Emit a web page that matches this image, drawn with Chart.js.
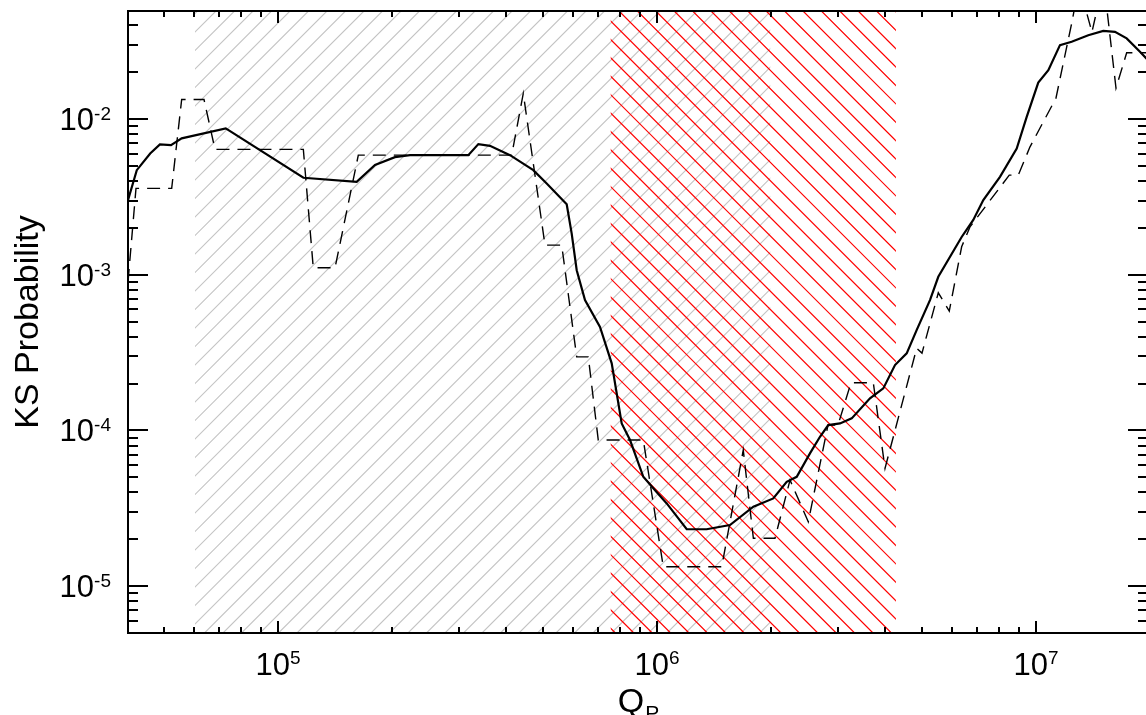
<!DOCTYPE html>
<html><head><meta charset="utf-8">
<script src="https://cdn.jsdelivr.net/npm/chart.js@4"></script>
<style>html,body{margin:0;padding:0;background:#fff;overflow:hidden;} canvas{display:block;}</style>
</head><body>
<canvas id="c" width="1148" height="715"></canvas>
<script>
// ---- data ----
const solidQ = [4.02e4, 4.24e4, 4.6e4, 4.88e4, 5.22e4, 5.57e4, 7.28e4, 1.167e5, 1.613e5, 1.803e5, 2.035e5, 2.23e5, 3.178e5, 3.378e5, 3.625e5, 4.094e5, 4.717e5, 5.117e5, 5.778e5, 5.956e5, 6.14e5, 6.457e5, 7.073e5, 7.595e5, 8.07e5, 8.489e5, 9.202e5, 9.777e5, 1.061e6, 1.198e6, 1.352e6, 1.558e6, 1.796e6, 2.027e6, 2.199e6, 2.337e6, 2.533e6, 2.692e6, 2.831e6, 3.04e6, 3.264e6, 3.648e6, 3.955e6, 4.246e6, 4.559e6, 4.843e6, 5.252e6, 5.524e6, 6.366e6, 6.832e6, 7.261e6, 8.035e6, 8.895e6, 9.452e6, 1.014e7, 1.078e7, 1.157e7, 1.242e7, 1.374e7, 1.505e7, 1.616e7, 1.735e7, 1.881e7, 1.975e7];
const solidP = [3.02e-3, 4.70e-3, 6.02e-3, 6.88e-3, 6.81e-3, 7.52e-3, 8.72e-3, 4.20e-3, 3.96e-3, 5.07e-3, 5.70e-3, 5.87e-3, 5.87e-3, 6.91e-3, 6.74e-3, 5.87e-3, 4.70e-3, 3.86e-3, 2.84e-3, 1.84e-3, 1.07e-3, 6.88e-4, 4.63e-4, 2.70e-4, 1.11e-4, 8.68e-5, 5.04e-5, 4.25e-5, 3.40e-5, 2.32e-5, 2.32e-5, 2.47e-5, 3.24e-5, 3.66e-5, 4.68e-5, 5.04e-5, 7.13e-5, 9.11e-5, 1.083e-4, 1.11e-4, 1.196e-4, 1.608e-4, 1.864e-4, 2.63e-4, 3.13e-4, 4.41e-4, 6.88e-4, 9.71e-4, 1.75e-3, 2.25e-3, 3.02e-3, 4.26e-3, 6.48e-3, 1.035e-2, 1.716e-2, 2.06e-2, 2.99e-2, 3.14e-2, 3.46e-2, 3.69e-2, 3.64e-2, 3.30e-2, 2.71e-2, 2.39e-2];

const dashQ = [4.02e4, 4.22e4, 5.242e4, 5.57e4, 6.379e4, 6.82e4, 1.1665e5, 1.239e5, 1.414e5, 1.629e5, 4.137e5, 4.438e5, 5.064e5, 5.605e5, 6.14e5, 6.588e5, 6.999e5, 9.202e5, 1.039e6, 1.482e6, 1.689e6, 1.796e6, 2.048e6, 2.244e6, 2.507e6, 2.826e6, 3.003e6, 3.25e6, 3.722e6, 3.996e6, 4.843e6, 5.003e6, 5.524e6, 5.905e6, 6.366e6, 6.696e6, 8.502e6, 8.982e6, 9.643e6, 1.129e7, 1.242e7, 1.299e7, 1.405e7, 1.508e7, 1.626e7, 1.735e7, 1.975e7];
const dashP = [9.0e-4, 3.59e-3, 3.59e-3, 1.338e-2, 1.338e-2, 6.39e-3, 6.39e-3, 1.109e-3, 1.109e-3, 5.87e-3, 5.87e-3, 1.462e-2, 1.551e-3, 1.551e-3, 2.97e-4, 2.97e-4, 8.68e-5, 8.68e-5, 1.332e-5, 1.332e-5, 7.48e-5, 2.03e-5, 2.03e-5, 4.80e-5, 2.59e-5, 1.083e-4, 1.083e-4, 2.025e-4, 2.025e-4, 5.71e-5, 3.37e-4, 3.14e-4, 7.66e-4, 5.85e-4, 1.513e-3, 2.03e-3, 4.37e-3, 4.37e-3, 6.64e-3, 1.364e-2, 4.12e-2, 7.3e-2, 3.62e-2, 7.8e-2, 1.581e-2, 2.67e-2, 2.67e-2];

const grayBand = [6.04e4, 1.99e6];
const redBand = [7.55e5, 4.27e6];

const xRange = [4.02e4, 1.975e7];
const yRange = [5.0e-6, 4.95e-2];

const xMajorTicks = [1e5, 1e6, 1e7];
const xTickExponents = ['5', '6', '7'];
const yMajorTicks = [1e-5, 1e-4, 1e-3, 1e-2];
const yTickExponents = ['-5', '-4', '-3', '-2'];

const xTitle = 'Q';
const xTitleSub = 'P';
const yTitle = 'KS Probability';

// ---- drawing helpers ----
const FONT = '"Liberation Sans", Arial, Helvetica, sans-serif';

function hatch(ctx, a, left, right, step, phase, dir, color, lw) {
  const h = a.bottom - a.top;
  ctx.save();
  ctx.beginPath();
  ctx.rect(left, a.top, right - left, h);
  ctx.clip();
  ctx.strokeStyle = color;
  ctx.lineWidth = lw;
  ctx.beginPath();
  const lo = dir > 0 ? left : left - h;
  const hi = dir > 0 ? right + h : right;
  let xt = phase + step * Math.floor((lo - phase) / step);
  for (; xt <= hi; xt += step) {
    ctx.moveTo(xt, a.top);
    ctx.lineTo(dir > 0 ? xt - h : xt + h, a.bottom);
  }
  ctx.stroke();
  ctx.restore();
}

function minorList(range) {
  const out = [];
  const e0 = Math.floor(Math.log10(range[0])), e1 = Math.ceil(Math.log10(range[1]));
  for (let e = e0; e <= e1; e++) for (let m = 2; m <= 9; m++) {
    const v = m * Math.pow(10, e);
    if (v > range[0] && v < range[1]) out.push(v);
  }
  return out;
}

const decor = {
  id: 'decor',
  beforeDatasetsDraw(chart) {
    const { ctx, chartArea: a, scales: { x } } = chart;
    const g0 = x.getPixelForValue(grayBand[0]), g1 = x.getPixelForValue(grayBand[1]);
    const r0 = x.getPixelForValue(redBand[0]), r1 = x.getPixelForValue(redBand[1]);
    hatch(ctx, a, g0, g1, 18.5, 12.5, 1, '#c4c4c4', 1.1);
    hatch(ctx, a, r0, r1, 18.4, 11.8, -1, '#ff0000', 1.2);
  },
  afterDraw(chart) {
    const { ctx, chartArea: a, scales: { x, y } } = chart;
    ctx.save();
    ctx.fillStyle = '#000';
    const L = Math.round(a.left), R = Math.round(a.right), T = Math.round(a.top), B = Math.round(a.bottom);
    // frame
    ctx.fillRect(L - 1, T - 1, R - L + 2, 2);
    ctx.fillRect(L - 1, B - 1, R - L + 2, 2);
    ctx.fillRect(L - 1, T - 1, 2, B - T + 2);
    ctx.fillRect(R - 1, T - 1, 2, B - T + 2);

    // x ticks (bottom & top, pointing inward)
    xMajorTicks.forEach(v => {
      const px = Math.round(x.getPixelForValue(v));
      ctx.fillRect(px - 1, B - 12, 2, 12);
      ctx.fillRect(px - 1, T, 2, 12);
    });
    minorList(xRange).forEach(v => {
      const px = Math.round(x.getPixelForValue(v));
      ctx.fillRect(px - 1, B - 6, 2, 6);
      ctx.fillRect(px - 1, T, 2, 6);
    });
    // y ticks (left & right, pointing inward)
    yMajorTicks.forEach(v => {
      const py = Math.round(y.getPixelForValue(v));
      ctx.fillRect(L, py - 1, 20, 2);
      ctx.fillRect(R - 20, py - 1, 20, 2);
    });
    minorList(yRange).forEach(v => {
      const py = Math.round(y.getPixelForValue(v));
      ctx.fillRect(L, py - 1, 10, 2);
      ctx.fillRect(R - 10, py - 1, 10, 2);
    });

    const MAIN = '31px ' + FONT, SUP = '19px ' + FONT;
    ctx.textBaseline = 'alphabetic';
    ctx.textAlign = 'left';
    // x tick labels
    xMajorTicks.forEach((v, i) => {
      const px = x.getPixelForValue(v);
      ctx.font = MAIN; const wm = ctx.measureText('10').width;
      ctx.font = SUP; const ws = ctx.measureText(xTickExponents[i]).width;
      const left = px - (wm + ws) / 2;
      ctx.font = MAIN; ctx.fillText('10', left, 675);
      ctx.font = SUP; ctx.fillText(xTickExponents[i], left + wm, 664);
    });
    // y tick labels
    yMajorTicks.forEach((v, i) => {
      const py = y.getPixelForValue(v);
      ctx.font = MAIN; const wm = ctx.measureText('10').width;
      ctx.font = SUP; const ws = ctx.measureText(yTickExponents[i]).width;
      const right = a.left - 17;
      const base = py + 11;
      ctx.font = MAIN; ctx.fillText('10', right - ws - wm, base);
      ctx.font = SUP; ctx.fillText(yTickExponents[i], right - ws, base - 10);
    });

    // axis titles
    ctx.font = '34px ' + FONT;
    const wq = ctx.measureText(xTitle).width;
    ctx.font = '21px ' + FONT;
    const wp = ctx.measureText(xTitleSub).width;
    const cx = (a.left + a.right) / 2;
    const lq = cx - (wq + wp) / 2;
    ctx.font = '34px ' + FONT; ctx.fillText(xTitle, lq, 712);
    ctx.font = '21px ' + FONT; ctx.fillText(xTitleSub, lq + wq + 1, 720);

    ctx.translate(38, (a.top + a.bottom) / 2);
    ctx.rotate(-Math.PI / 2);
    ctx.textAlign = 'center';
    ctx.font = '34px ' + FONT;
    ctx.fillText(yTitle, 0, 0);
    ctx.restore();
  }
};

new Chart(document.getElementById('c'), {
  type: 'line',
  data: {
    datasets: [
      {
        label: 'solid',
        data: solidQ.map((q, i) => ({ x: q, y: solidP[i] })),
        borderColor: '#000', borderWidth: 2.2, pointRadius: 0, tension: 0, fill: false, clip: 0
      },
      {
        label: 'dashed',
        data: dashQ.map((q, i) => ({ x: q, y: dashP[i] })),
        borderColor: '#000', borderWidth: 1.4, borderDash: [13, 8], pointRadius: 0, tension: 0, fill: false, clip: 0
      }
    ]
  },
  options: {
    responsive: false,
    animation: false,
    events: [],
    layout: { padding: { top: 11, right: 0, left: 0, bottom: 0 } },
    plugins: { legend: { display: false }, tooltip: { enabled: false }, title: { display: false } },
    scales: {
      x: {
        type: 'logarithmic', min: xRange[0], max: xRange[1],
        grid: { display: false }, border: { display: false }, ticks: { display: false },
        afterFit(s) { s.height = 82; }
      },
      y: {
        type: 'logarithmic', min: yRange[0], max: yRange[1],
        grid: { display: false }, border: { display: false }, ticks: { display: false },
        afterFit(s) { s.width = 128; }
      }
    }
  },
  plugins: [decor]
});
</script>
</body></html>
